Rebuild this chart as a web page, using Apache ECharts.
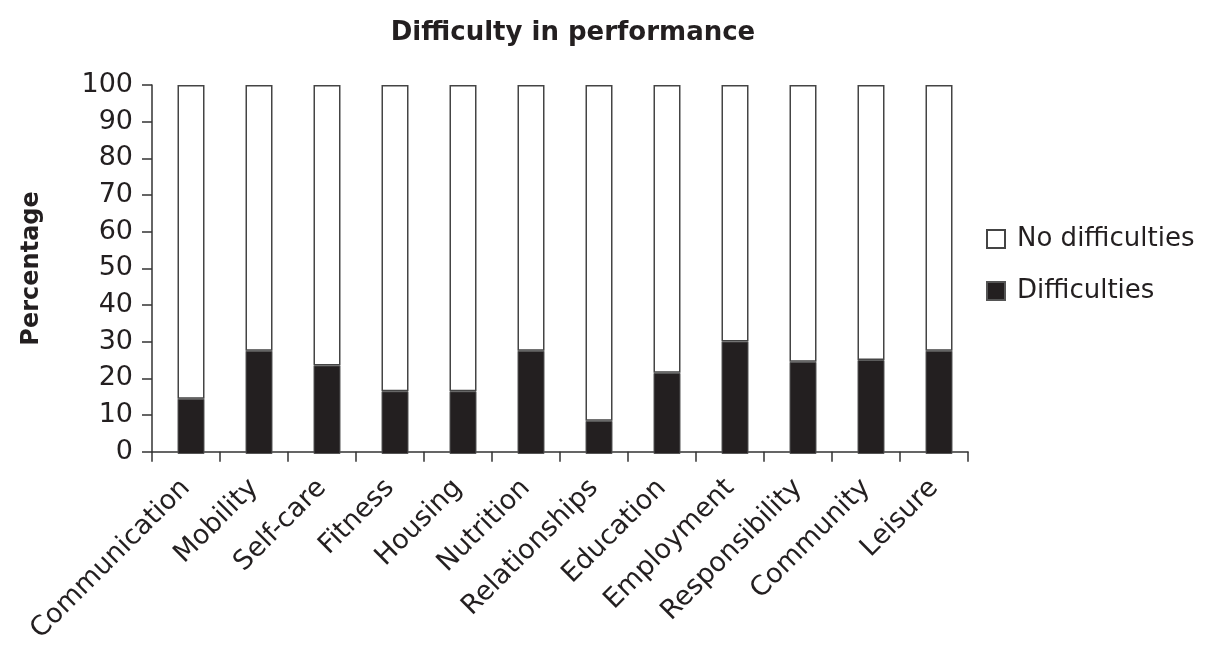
<!DOCTYPE html>
<html>
<head>
<meta charset="utf-8">
<script src="https://cdn.jsdelivr.net/npm/echarts@6/dist/echarts.min.js"></script>
<style>
  html, body { margin: 0; padding: 0; background: #fff; }
  #chartMain { width: 1207px; height: 646px; }
</style>
</head>
<body>
<div id="chartMain"></div>
<script>
var categories = ['Communication', 'Mobility', 'Self-care', 'Fitness', 'Housing', 'Nutrition',
    'Relationships', 'Education', 'Employment', 'Responsibility', 'Community', 'Leisure'];
var difficulties = [15, 28, 24, 17, 17, 28, 9, 22, 30.5, 25, 25.5, 28];
var noDifficulties = [85, 72, 76, 83, 83, 72, 91, 78, 69.5, 75, 74.5, 72];
var yTicks = [0, 100, 10]; // min, max, interval

var fontFam = '"DejaVu Sans", "Liberation Sans", Arial, sans-serif';
var ink = '#231f20';

var option = {
    backgroundColor: '#fff',
    animation: false,
    title: {
        text: 'Difficulty in performance',
        left: 568,
        textAlign: 'center',
        top: 15,
        textStyle: { fontFamily: fontFam, fontSize: 26, fontWeight: 'bold', color: ink }
    },
    legend: {
        orient: 'vertical',
        left: 981,
        top: 218,
        itemGap: 20,
        itemWidth: 18,
        itemHeight: 18,
        icon: 'rect',
        data: ['No difficulties', 'Difficulties'],
        textStyle: { fontFamily: fontFam, fontSize: 26, color: ink, padding: [0, 0, 0, 7], lineHeight: 32 }
    },
    // grid 0 carries the visible axes, grid 1 the bars (a few px right, like the source)
    grid: [
        { left: 152, right: 239, top: 85, bottom: 192 },
        { left: 157, right: 234, top: 85, bottom: 192 }
    ],
    xAxis: [
        {
            type: 'category',
            gridIndex: 0,
            data: categories,
            boundaryGap: true,
            axisLine: { lineStyle: { color: '#333', width: 1.5 } },
            axisTick: { show: true, length: 10, lineStyle: { color: '#333', width: 1.5 } },
            axisLabel: {
                rotate: 45,
                interval: 0,
                margin: 32,
                fontFamily: fontFam,
                fontSize: 27,
                color: ink
            }
        },
        {
            type: 'category',
            gridIndex: 1,
            data: categories,
            show: false
        }
    ],
    yAxis: [
        {
            type: 'value',
            gridIndex: 0,
            min: yTicks[0],
            max: yTicks[1],
            interval: yTicks[2],
            name: 'Percentage',
            nameLocation: 'middle',
            nameGap: 108,
            nameTextStyle: { fontFamily: fontFam, fontSize: 24, fontWeight: 'bold', color: ink },
            splitLine: { show: false },
            axisLine: { show: true, lineStyle: { color: '#333', width: 1.5 } },
            axisTick: { show: true, length: 10, lineStyle: { color: '#333', width: 1.5 } },
            axisLabel: { fontFamily: fontFam, fontSize: 27, color: ink, margin: 19 }
        },
        {
            type: 'value',
            gridIndex: 1,
            min: yTicks[0],
            max: yTicks[1],
            show: false,
            splitLine: { show: false }
        }
    ],
    series: [
        {
            name: 'Difficulties',
            type: 'bar',
            stack: 'total',
            xAxisIndex: 1,
            yAxisIndex: 1,
            barWidth: 27,
            data: difficulties,
            itemStyle: { color: ink, borderColor: '#555', borderWidth: 1 }
        },
        {
            name: 'No difficulties',
            type: 'bar',
            stack: 'total',
            xAxisIndex: 1,
            yAxisIndex: 1,
            barWidth: 27,
            data: noDifficulties,
            itemStyle: { color: '#fff', borderColor: '#444', borderWidth: 1.5 }
        }
    ]
};

var mychart = echarts.init(document.getElementById('chartMain'));
mychart.setOption(option);
</script>
</body>
</html>
